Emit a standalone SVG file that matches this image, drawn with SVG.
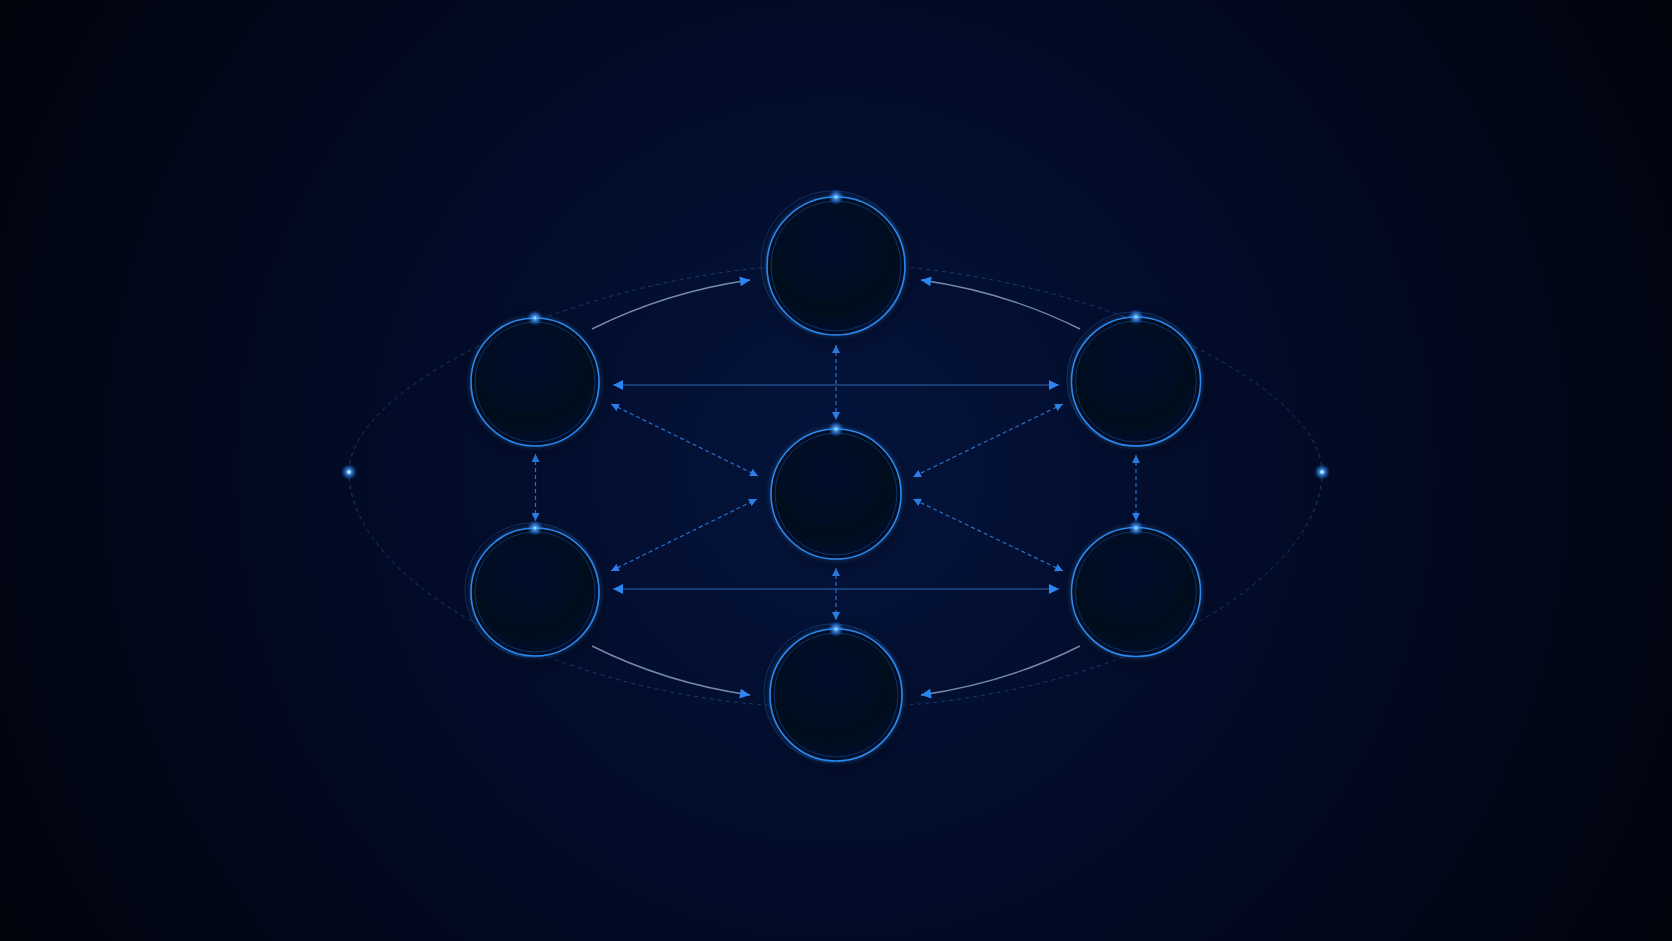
<svg xmlns="http://www.w3.org/2000/svg" width="1672" height="941" viewBox="0 0 1672 941">
  <defs>
    <radialGradient id="bg" cx="836" cy="470" r="980" gradientUnits="userSpaceOnUse">
      <stop offset="0" stop-color="#04143d"/>
      <stop offset="0.4" stop-color="#020c2a"/>
      <stop offset="1" stop-color="#01030b"/>
    </radialGradient>
    <radialGradient id="nodeFill" cx="0.45" cy="0.35" r="0.7">
      <stop offset="0" stop-color="#030f2d"/>
      <stop offset="0.7" stop-color="#01081c"/>
      <stop offset="1" stop-color="#030f30"/>
    </radialGradient>
    <radialGradient id="spot">
      <stop offset="0" stop-color="#e8f6ff" stop-opacity="1"/>
      <stop offset="0.2" stop-color="#5ab8ff" stop-opacity="0.9"/>
      <stop offset="1" stop-color="#1a6cff" stop-opacity="0"/>
    </radialGradient>
    <filter id="glow" x="-30%" y="-30%" width="160%" height="160%">
      <feGaussianBlur stdDeviation="2.5" result="b"/>
      <feComponentTransfer in="b" result="c"><feFuncA type="linear" slope="0.6"/></feComponentTransfer>
      <feMerge><feMergeNode in="c"/><feMergeNode in="SourceGraphic"/></feMerge>
    </filter>
    <filter id="shadow" x="-50%" y="-50%" width="200%" height="200%">
      <feGaussianBlur stdDeviation="8"/>
    </filter>
    <marker id="ahSolid" viewBox="0 0 10 10" refX="10" refY="5" markerWidth="11" markerHeight="10" markerUnits="userSpaceOnUse" orient="auto-start-reverse">
      <path d="M0 0 L10 5 L0 10 Z" fill="#2a86f0"/>
    </marker>
    <marker id="ahDash" viewBox="0 0 10 10" refX="10" refY="5" markerWidth="8" markerHeight="8" markerUnits="userSpaceOnUse" orient="auto-start-reverse">
      <path d="M0 0 L10 5 L0 10 Z" fill="#2a7ee6"/>
    </marker>
  </defs>
  <style>
    .ring { fill: url(#nodeFill); stroke: #2b88ec; stroke-width: 1.6; }
    .inner { fill: none; stroke: #1d5fb8; stroke-width: 1; stroke-opacity: 0.45; }
    .outer { fill: none; stroke: #2a7fe0; stroke-width: 1; stroke-opacity: 0.3; }
    .halo { fill: #000000; fill-opacity: 0.35; }
    .curve { fill: none; stroke: #8a9fc0; stroke-width: 1.4; stroke-opacity: 0.85; marker-end: url(#ahSolid); }
    .hline { fill: none; stroke: #356fbd; stroke-width: 1.2; stroke-opacity: 0.9; marker-start: url(#ahSolid); marker-end: url(#ahSolid); }
    .dline { fill: none; stroke: #2b70c8; stroke-width: 1.2; stroke-dasharray: 4 3; marker-start: url(#ahDash); marker-end: url(#ahDash); }
    .orbit { fill: none; stroke: #2a64b0; stroke-width: 1; stroke-dasharray: 4 4; stroke-opacity: 0.5; }
  </style>

  <rect width="1672" height="941" fill="url(#bg)"/>

  <g id="orbit">
    <path class="orbit" d="M349 472 C349 382 600 264 836 264 C1072 264 1322 382 1322 472 C1322 585 1102 708 836 708 C570 708 349 585 349 472 Z"/>
    <circle cx="349" cy="472" r="8" fill="url(#spot)"/>
    <circle cx="349" cy="472" r="1.8" fill="#bfe6ff"/>
    <circle cx="1322" cy="472" r="8" fill="url(#spot)"/>
    <circle cx="1322" cy="472" r="1.8" fill="#bfe6ff"/>
  </g>

  <g id="connectors">
    <path class="curve" d="M592 329 Q666 292 750 280"/>
    <path class="curve" d="M1080 329 Q1006 292 921 280"/>
    <path class="curve" d="M592 646 Q666 683 750 695"/>
    <path class="curve" d="M1080 646 Q1006 683 921 695"/>
    <line class="hline" x1="613" y1="385" x2="1059" y2="385"/>
    <line class="hline" x1="613" y1="589" x2="1059" y2="589"/>
    <line class="dline" x1="836" y1="345" x2="836" y2="420"/>
    <line class="dline" x1="836" y1="568" x2="836" y2="620"/>
    <line class="dline" x1="535.5" y1="454" x2="535.5" y2="521"/>
    <line class="dline" x1="1136" y1="455" x2="1136" y2="521"/>
    <line class="dline" x1="611" y1="404" x2="758" y2="476"/>
    <line class="dline" x1="611" y1="571" x2="757" y2="499"/>
    <line class="dline" x1="1063" y1="404" x2="913" y2="477"/>
    <line class="dline" x1="1063" y1="571" x2="913" y2="499"/>
  </g>

  <g id="node-top">
    <circle class="halo" cx="838" cy="270" r="72" filter="url(#shadow)"/>
    <circle class="ring" cx="836" cy="266" r="69" filter="url(#glow)"/>
    <circle class="inner" cx="836" cy="266" r="65"/>
    <circle class="outer" cx="833" cy="263" r="72"/>
    <circle cx="836" cy="197" r="8" fill="url(#spot)"/>
  </g>
  <g id="node-upper-left">
    <circle class="halo" cx="537" cy="386" r="67" filter="url(#shadow)"/>
    <circle class="ring" cx="535" cy="382" r="64" filter="url(#glow)"/>
    <circle class="inner" cx="535" cy="382" r="60"/>
    <circle cx="535" cy="318" r="8" fill="url(#spot)"/>
  </g>
  <g id="node-upper-right">
    <circle class="halo" cx="1138" cy="386" r="67" filter="url(#shadow)"/>
    <circle class="ring" cx="1136" cy="381.5" r="64.5" filter="url(#glow)"/>
    <circle class="inner" cx="1136" cy="381.5" r="60.5"/>
    <circle class="outer" cx="1134" cy="379" r="67"/>
    <circle cx="1136" cy="317" r="8" fill="url(#spot)"/>
  </g>
  <g id="node-center">
    <circle class="halo" cx="838" cy="498" r="68" filter="url(#shadow)"/>
    <circle class="ring" cx="836" cy="494" r="65" filter="url(#glow)"/>
    <circle class="inner" cx="836" cy="494" r="61"/>
    <circle cx="836" cy="429" r="8" fill="url(#spot)"/>
  </g>
  <g id="node-lower-left">
    <circle class="halo" cx="537" cy="596" r="67" filter="url(#shadow)"/>
    <circle class="ring" cx="535" cy="592" r="64" filter="url(#glow)"/>
    <circle class="inner" cx="535" cy="592" r="60"/>
    <circle class="outer" cx="532" cy="590" r="67"/>
    <circle cx="535" cy="528" r="8" fill="url(#spot)"/>
  </g>
  <g id="node-lower-right">
    <circle class="halo" cx="1138" cy="596" r="67" filter="url(#shadow)"/>
    <circle class="ring" cx="1136" cy="592" r="64.5" filter="url(#glow)"/>
    <circle class="inner" cx="1136" cy="592" r="60.5"/>
    <circle cx="1136" cy="528" r="8" fill="url(#spot)"/>
  </g>
  <g id="node-bottom">
    <circle class="halo" cx="838" cy="699" r="69" filter="url(#shadow)"/>
    <circle class="ring" cx="836" cy="695" r="66" filter="url(#glow)"/>
    <circle class="inner" cx="836" cy="695" r="62"/>
    <circle class="outer" cx="833" cy="693" r="69"/>
    <circle cx="836" cy="629" r="8" fill="url(#spot)"/>
  </g>
</svg>
